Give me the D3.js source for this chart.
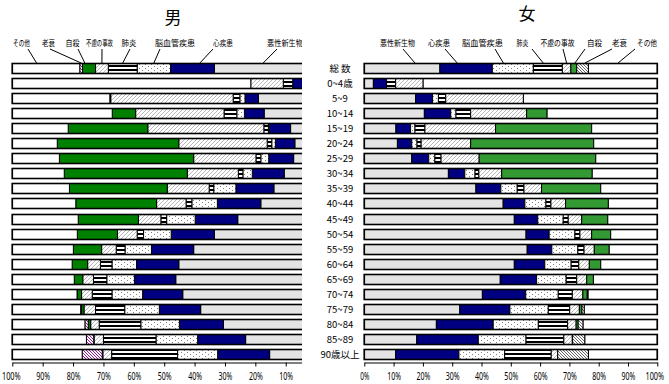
<!DOCTYPE html>
<html><head><meta charset="utf-8">
<script src="https://cdn.jsdelivr.net/npm/d3@7"></script>
<style>body{margin:0;background:#fff}svg{display:block}text{font-family:"Noto Sans CJK JP","Noto Sans",sans-serif;fill:#000}</style>
</head><body>
<svg id="c" width="669" height="384"></svg>
<script>
const ages = ["総 数","0~4歳","5~9","10~14","15~19","20~24","25~29","30~34","35~39","40~44","45~49","50~54","55~59","60~64","65~69","70~74","75~79","80~84","85~89","90歳以上"];
const causes = ["悪性新生物","心疾患","脳血管疾患","肺炎","不慮の事故","自殺","老衰","その他"];
const tickValues = [0,10,20,30,40,50,60,70,80,90,100];
const tickLabels = ["0%","10%","20%","30%","40%","50%","60%","70%","80%","90%","100%"];

const maleCancer    = [33.5,3.0,19.0,17.1,8.4,7.0,7.4,10.5,13.9,18.2,25.8,33.5,40.3,45.2,46.2,43.9,38.0,30.5,23.2,15.3];
const maleHeart     = [14.4,4.7,4.4,6.5,7.0,6.4,8.2,10.5,12.5,14.3,14.0,14.2,13.9,13.9,13.6,13.2,13.6,14.5,15.8,17.1];
const maleCerebro   = [11.0,0.0,1.7,2.5,0.3,1.2,2.6,3.1,7.3,8.4,9.4,9.1,8.7,8.1,9.1,10.1,11.4,12.7,13.7,13.2];
const malePneumonia = [9.5,3.1,2.2,4.2,1.5,1.5,1.6,1.5,1.5,1.9,1.9,2.1,2.9,3.8,4.4,6.5,9.6,13.7,17.3,21.7];
const maleAccident  = [4.2,10.7,40.3,29.1,38.2,29.1,20.5,16.8,13.8,9.7,7.4,6.5,4.8,4.2,3.5,3.5,3.8,2.8,3.1,2.9];
const maleSuicide   = [4.3,0.0,0.3,7.7,26.2,40.0,44.2,40.5,32.2,26.6,19.8,13.2,9.3,5.1,2.8,1.4,0.8,0.8,0.1,0.2];
const maleSenility  = [0.9,0,0,0,0,0,0,0,0,0,0,0,0,0,0,0.1,0.3,1.1,2.4,6.6];
const maleOther     = [22.2,78.5,32.1,32.9,18.4,14.8,15.5,17.1,18.8,20.9,21.7,21.4,20.1,19.7,20.4,21.3,22.5,23.9,24.4,23.0];

const femaleCancer    = [25.8,3.1,17.5,20.5,10.8,11.3,16.2,28.7,38.1,47.4,51.2,55.2,55.6,51.2,46.4,40.3,32.6,24.6,17.9,10.7];
const femaleHeart     = [17.9,4.5,5.8,9.0,5.0,4.9,5.8,5.6,8.5,7.4,8.0,7.9,8.4,10.4,12.4,14.8,17.1,19.4,21.0,21.6];
const femaleCerebro   = [14.0,0.0,2.0,1.8,1.5,1.8,2.1,3.5,5.6,7.2,8.7,8.8,8.9,9.0,10.1,11.1,13.1,15.4,16.3,15.6];
const femalePneumonia = [9.9,3.1,2.5,5.0,3.4,1.4,2.1,1.3,2.3,1.7,1.7,1.7,2.1,2.6,3.6,4.8,7.3,10.0,12.9,15.9];
const femaleAccident  = [2.9,9.4,26.5,19.1,24.1,16.9,13.0,7.8,6.0,5.0,4.6,4.0,3.5,3.6,3.4,3.6,3.3,2.9,2.9,2.2];
const femaleSuicide   = [2.0,0,0,7.0,32.8,42.0,39.8,30.9,20.2,14.6,8.9,6.5,5.1,3.9,2.3,1.5,0.9,0.7,0.1,0];
const femaleSenility  = [4.0,0,0,0,0,0,0,0,0,0,0,0,0,0,0,0.3,0.8,1.7,4.2,10.5];
const femaleOther     = [23.5,79.9,45.7,37.6,22.4,21.7,21.0,22.2,19.3,16.7,16.9,15.9,16.4,19.3,21.8,23.6,24.9,25.3,24.7,23.5];

const maleSeries = [maleCancer,maleHeart,maleCerebro,malePneumonia,maleAccident,maleSuicide,maleSenility,maleOther];
const femaleSeries = [femaleCancer,femaleHeart,femaleCerebro,femalePneumonia,femaleAccident,femaleSuicide,femaleSenility,femaleOther];

// ---- layout ----
const svg = d3.select("#c");
const defs = svg.append("defs");
function pat(id,w,h,draw){
  const p = defs.append("pattern").attr("id",id).attr("patternUnits","userSpaceOnUse").attr("width",w).attr("height",h);
  p.append("rect").attr("width",w).attr("height",h).attr("fill","#fff");
  draw(p);
}
pat("dots",6,4,p=>{
  p.append("rect").attr("x",1).attr("y",0).attr("width",1).attr("height",1).attr("fill","#808080");
  p.append("rect").attr("x",4).attr("y",2).attr("width",1).attr("height",1).attr("fill","#808080");
});
pat("stripes",4,4,p=>p.append("rect").attr("y",1).attr("width",4).attr("height",2).attr("fill","#000"));
pat("hatch",4,4,p=>p.append("path").attr("d","M-1,1L1,-1M0,4L4,0M3,5L5,3").attr("stroke","#b8b8b8").attr("stroke-width",1));
pat("senM",3,3,p=>p.append("path").attr("d","M-1,2L1,4M0,0L3,3M2,-1L4,1").attr("stroke","#990099").attr("stroke-width",0.9));
pat("senF",3,3,p=>p.append("path").attr("d","M-1,2L1,4M0,0L3,3M2,-1L4,1").attr("stroke","#444").attr("stroke-width",0.8));
defs.append("clipPath").attr("id","mclip").append("rect").attr("x",0).attr("y",0).attr("width",302).attr("height",384);

const y = d3.scaleBand().domain(ages).range([61.2,361.8]).paddingInner(0.27).paddingOuter(0.1);
const barH = 10;
const rowTop = a => Math.round(y(a)) + 0.5;

// squeeze a text horizontally to a target width around its anchor (x,y)
function squeeze(node, w, x, yy) {
  const n = node.getComputedTextLength();
  const s = n > 0 ? Math.min(1, w / n) : 1;
  d3.select(node).attr("x", 0).attr("y", 0)
    .attr("transform", `translate(${x},${yy}) scale(${s},1)`);
}

const panels = [
  {series: maleSeries, x: d3.scaleLinear().domain([0,100]).range([316.1,12.3]),
   fills: ["#e4e4e4","#000080","url(#dots)","url(#stripes)","url(#hatch)","#008000","url(#senM)","#fff"],
   clip: true, title: "男", titleX: 173, titleY: 24,
   labelX: [285,223,175,129,99.5,72.5,48.5,21.5], labelW: [36,20,40,15,27,14,13,17],
   lineTopX: [277,213,160,130,102,78,50,28],
   frac: [0.52,0.33,0.5,0.5,0.5,0.82,0.5,0.64]},
  {series: femaleSeries, x: d3.scaleLinear().domain([0,100]).range([364.3,657.3]),
   fills: ["#e4e4e4","#000080","url(#dots)","url(#stripes)","url(#hatch)","#339933","url(#senF)","#fff"],
   clip: false, title: "女", titleX: 527, titleY: 20,
   labelX: [397.5,439,482.5,522.5,557.5,594.5,619.5,647], labelW: [35,22,41,12,34,15,15,20],
   lineTopX: [403,445,495,532,563,585,612,635],
   frac: [0.67,0.33,0.27,0.34,0.5,0.7,0.7,0.43]}
];

panels.forEach((P,pi) => {
  const g = svg.append("g");
  if (P.clip) g.attr("clip-path","url(#mclip)");
  const x = P.x;
  ages.forEach((a,i) => {
    let cum = 0;
    const top = rowTop(a);
    P.series.forEach((s,j) => {
      const v = s[i];
      if (v > 0) {
        const x0 = x(cum), x1 = x(cum+v);
        g.append("rect").attr("x",Math.min(x0,x1)).attr("y",top)
          .attr("width",Math.abs(x1-x0)).attr("height",barH)
          .attr("fill",P.fills[j]).attr("stroke","#000").attr("stroke-width",1);
      }
      cum += v;
    });
    const xa = x(0), xb = x(100);
    g.append("rect").attr("x",Math.min(xa,xb)).attr("y",top).attr("width",Math.abs(xb-xa)).attr("height",barH)
      .attr("fill","none").attr("stroke","#000").attr("stroke-width",1.6);
  });
  // leader labels for the first row
  const top0 = rowTop(ages[0]);
  let cum = 0;
  P.series.forEach((s,j) => {
    const v = s[0];
    const px = x(cum + v*P.frac[j]);
    cum += v;
    g.append("line").attr("x1",P.lineTopX[j]).attr("y1",49).attr("x2",px).attr("y2",top0-0.5)
      .attr("stroke","#000").attr("stroke-width",1);
    const t = g.append("text").attr("text-anchor","middle")
      .style("font-size","8.5px").text(causes[j]);
    squeeze(t.node(), P.labelW[j], P.labelX[j], 46);
  });
  // axis
  const ax = d3.axisBottom(x).tickValues(tickValues).tickSize(4).tickSizeOuter(0).tickPadding(6)
    .tickFormat(d => tickLabels[tickValues.indexOf(d)]);
  const axg = g.append("g").attr("transform","translate(0,362.5)").call(ax);
  axg.select(".domain").attr("stroke","#000").attr("stroke-width",1.2);
  axg.selectAll(".tick line").attr("stroke","#000");
  axg.selectAll(".tick text").style("font-size","10px").attr("fill","#000")
    .style("font-family","'Noto Sans',sans-serif").attr("dy",null)
    .each(function(d){
      const t = d3.select(this).text();
      let dx = 0;
      if (pi === 1 && d === 100) dx = -3;
      if (pi === 0 && d === 100) dx = -1.5;
      squeeze(this, t.length*4.8-0.5, dx, 17.5);
    });
  svg.append("text").attr("x",P.titleX).attr("y",P.titleY).attr("text-anchor","middle")
    .style("font-size","17px").text(P.title);
});

// row labels
svg.append("g").selectAll("text").data(ages).join("text")
  .attr("x",340).attr("y",a => rowTop(a)+barH/2).attr("dy","0.35em")
  .attr("text-anchor","middle").style("font-size","9.5px").text(d => d);
</script>
</body></html>
